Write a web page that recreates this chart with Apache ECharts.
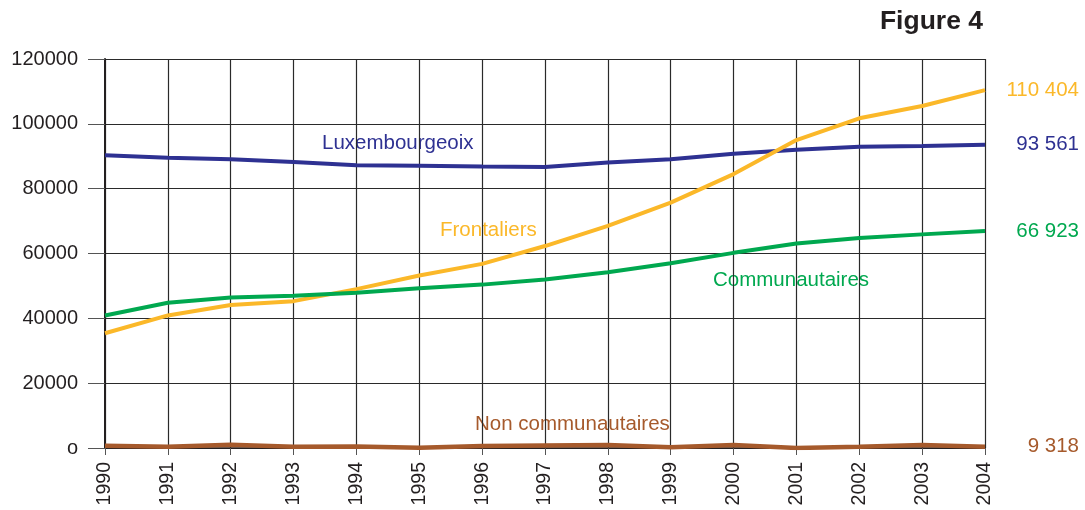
<!DOCTYPE html>
<html>
<head>
<meta charset="utf-8">
<script src="https://cdn.jsdelivr.net/npm/echarts@6/dist/echarts.min.js"></script>
<style>
  html, body { margin: 0; padding: 0; background: #fff; }
  #chart { width: 1085px; height: 510px; }
</style>
</head>
<body>
<div id="chart"></div>
<script>
// data
var years = ["1990", "1991", "1992", "1993", "1994", "1995", "1996", "1997",
  "1998", "1999", "2000", "2001", "2002", "2003", "2004"];
var luxembourgeois = [90300, 89500, 89100, 88200, 87200, 87100, 86800, 86700,
  88100, 89100, 90800, 92000, 92900, 93200, 93561];
var frontaliers = [35400, 40900, 44100, 45300, 49000, 53200, 56800, 62300,
  68500, 75700, 84500, 95000, 101700, 105500, 110404];
var communautaires = [40900, 44800, 46400, 47000, 47900, 49300, 50400, 52000,
  54200, 57000, 60200, 63100, 64800, 65900, 66923];
var nonCommunautaires = [700, 400, 1000, 400, 500, 100, 600, 800,
  900, 200, 900, 0, 400, 900, 400];
var endTexts = ["93 561", "110 404", "66 923", "9 318"];
var yTicks = [0, 20000, 40000, 60000, 80000, 100000, 120000];

var FONT = "Liberation Sans, Arial, Helvetica, sans-serif";
var colors = ["#2e3192", "#fbb829", "#00a84f", "#a65a2c"];

var chart = echarts.init(document.getElementById("chart"));

function makeSeries(name, data, i, width) {
  return {
    name: name,
    type: "line",
    data: data,
    symbol: "none",
    smooth: false,
    lineStyle: { color: colors[i], width: width },
    z: 3 + i,
    endLabel: {
      show: true,
      formatter: endTexts[i],
      color: colors[i],
      fontFamily: FONT,
      fontSize: 20.5,
      distance: 94,
      align: "right"
    }
  };
}

var option = {
  animation: false,
  backgroundColor: "#ffffff",
  title: {
    text: "Figure 4",
    right: 97,
    top: 3,
    textStyle: { fontFamily: FONT, fontSize: 26.5, fontWeight: "bold", color: "#231f20" }
  },
  grid: { left: 105, right: 100, top: 59, bottom: 62, containLabel: false },
  xAxis: {
    type: "category",
    data: years,
    boundaryGap: false,
    axisLine: { show: true, lineStyle: { color: "#231f20", width: 1.5 } },
    axisTick: { show: true, length: 7, lineStyle: { color: "#555" } },
    axisLabel: {
      rotate: 90,
      margin: 14,
      fontFamily: FONT,
      fontSize: 19.5,
      color: "#231f20"
    },
    splitLine: { show: true, lineStyle: { color: "#2a2a2a", width: 1.2 } }
  },
  yAxis: {
    type: "value",
    min: 0,
    max: 120000,
    interval: 20000,
    axisLine: { show: true, lineStyle: { color: "#231f20", width: 2 } },
    axisTick: { show: true, inside: false, length: 17, lineStyle: { color: "#555" } },
    axisLabel: {
      margin: 27,
      fontFamily: FONT,
      fontSize: 20,
      color: "#231f20",
      formatter: function (v) { return v === yTicks[0] ? "o" : String(v); }
    },
    splitLine: { show: true, lineStyle: { color: "#2a2a2a", width: 1.2 } }
  },
  graphic: [
    { type: "text", left: 322, top: 133, style: { text: "Luxembourgeoix", fill: colors[0], font: "20.5px " + FONT } },
    { type: "text", left: 440, top: 220, style: { text: "Frontaliers", fill: colors[1], font: "20.5px " + FONT } },
    { type: "text", left: 713, top: 270, style: { text: "Communautaires", fill: colors[2], font: "20.5px " + FONT } },
    { type: "text", left: 475, top: 414, style: { text: "Non communautaires", fill: colors[3], font: "20.5px " + FONT } }
  ],
  series: [
    makeSeries("Luxembourgeois", luxembourgeois, 0, 4),
    makeSeries("Frontaliers", frontaliers, 1, 4),
    makeSeries("Communautaires", communautaires, 2, 4),
    makeSeries("Non communautaires", nonCommunautaires, 3, 4.5)
  ]
};

chart.setOption(option);
</script>
</body>
</html>
